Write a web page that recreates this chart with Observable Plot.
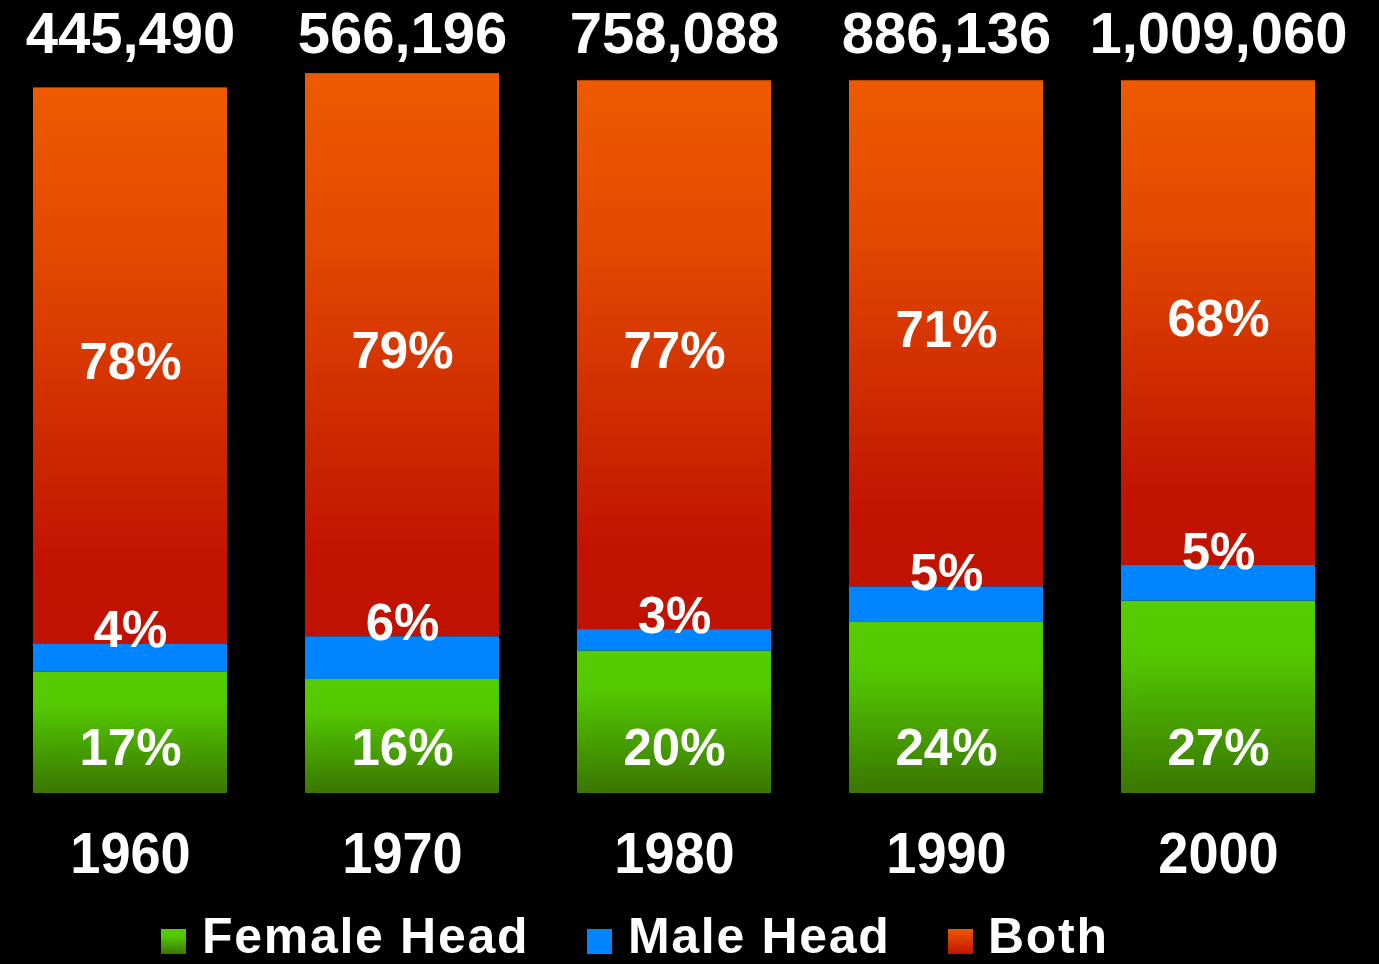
<!DOCTYPE html>
<html><head><meta charset="utf-8">
<script src="https://cdn.jsdelivr.net/npm/d3@7"></script>
<script src="https://cdn.jsdelivr.net/npm/@observablehq/plot@0.6"></script>
<style>
html,body{margin:0;padding:0;background:#000;overflow:hidden;}
#chart{width:1379px;}
.legend{position:relative;width:1379px;height:54px;font-family:"Liberation Sans",Arial,sans-serif;font-weight:bold;color:#fff;}
.legend .sw{position:absolute;width:25px;height:25px;top:19px;}
.legend .lb{position:absolute;font-size:50px;line-height:40px;height:40px;top:6.2px;letter-spacing:1.7px;white-space:nowrap;}
</style></head><body><div id="chart"></div>
<script>
// ---- data ----
const years = ["1960", "1970", "1980", "1990", "2000"];
const totals = [445490, 566196, 758088, 886136, 1009060];
const female = [17, 16, 20, 24, 27];
const male = [4, 6, 3, 5, 5];
const both = [78, 79, 77, 71, 68];
const series = ["Female Head", "Male Head", "Both"];

// ---- styling ----
const gradId = {"Female Head": "gFemale", "Male Head": "gMale", "Both": "gBoth"};
const cssGrad = {
  "Female Head": "linear-gradient(#55cc00, #52c600 30%, #3a7600)",
  "Male Head": "#0084ff",
  "Both": "linear-gradient(#ee5800, #c01400)"
};
const legendPos = [{sw: 161, lb: 202}, {sw: 587, lb: 628}, {sw: 948, lb: 988}];

const rows = [];
years.forEach((y, i) => {
  rows.push({year: y, type: series[0], value: female[i]});
  rows.push({year: y, type: series[1], value: male[i]});
  rows.push({year: y, type: series[2], value: both[i]});
});
const idx = years.map((_, i) => i);

const defs = () => {
  const ns = "http://www.w3.org/2000/svg";
  const d = document.createElementNS(ns, "defs");
  d.innerHTML = `
  <linearGradient id="gFemale" x1="0" y1="0" x2="0" y2="1">
    <stop offset="0" stop-color="#55cc00"/><stop offset="0.28" stop-color="#53c800"/><stop offset="1" stop-color="#3a7600"/>
  </linearGradient>
  <linearGradient id="gMale" x1="0" y1="0" x2="0" y2="1">
    <stop offset="0" stop-color="#0084ff"/><stop offset="1" stop-color="#0084ff"/>
  </linearGradient>
  <linearGradient id="gBoth" x1="0" y1="0" x2="0" y2="1">
    <stop offset="0" stop-color="#ee5a00"/><stop offset="0.3" stop-color="#e24a00"/><stop offset="0.85" stop-color="#c11400"/><stop offset="1" stop-color="#c01200"/>
  </linearGradient>`;
  return d;
};

const H = 910;
const fmt = d3.format(",");
const font = "'Liberation Sans', Arial, sans-serif";

const chart = Plot.plot({
  width: 1379,
  height: H,
  marginLeft: 33,
  marginRight: 64,
  marginTop: 66,
  marginBottom: H - 793,
  style: {background: "#000", color: "#fff", fontFamily: font},
  x: {domain: years, paddingInner: 0.287, paddingOuter: 0, label: null},
  y: {domain: [0, 102], axis: null},
  color: {type: "identity"},
  marks: [
    defs,
    Plot.barY(rows, {x: "year", y: "value", fill: d => `url(#${gradId[d.type]})`, inset: 0}),
    Plot.axisX({tickSize: 0, tickPadding: 39, fontSize: 57, fontWeight: "bold", fill: "#fff", label: null}),
    Plot.text(idx, {x: i => years[i], text: i => fmt(totals[i]), frameAnchor: "top", dy: -32, lineAnchor: "middle", fontSize: 58, fontWeight: "bold", fill: "#fff"}),
    Plot.text(idx, {x: i => years[i], y: 0, text: i => female[i] + "%", dy: -45, lineAnchor: "middle", fontSize: 51, fontWeight: "bold", fill: "#fff"}),
    Plot.text(idx, {x: i => years[i], y: i => female[i] + male[i], text: i => male[i] + "%", dy: -13, lineAnchor: "middle", fontSize: 51, fontWeight: "bold", fill: "#fff"}),
    Plot.text(idx, {x: i => years[i], y: i => female[i] + male[i] + both[i] / 2, text: i => both[i] + "%", dy: -3, lineAnchor: "middle", fontSize: 51, fontWeight: "bold", fill: "#fff"})
  ]
});

// horizontally condense year labels slightly
d3.select(chart).selectAll('g[aria-label="x-axis tick label"] text').each(function() {
  const t = this.getAttribute("transform");
  if (t) this.setAttribute("transform", t + " scale(0.95,1)");
});

document.getElementById("chart").appendChild(chart);

// legend
const legend = document.createElement("div");
legend.className = "legend";
series.forEach((s, i) => {
  const sw = document.createElement("div");
  sw.className = "sw";
  sw.style.left = legendPos[i].sw + "px";
  sw.style.background = cssGrad[s];
  const lb = document.createElement("div");
  lb.className = "lb";
  lb.style.left = legendPos[i].lb + "px";
  lb.textContent = s;
  legend.appendChild(sw);
  legend.appendChild(lb);
});
document.getElementById("chart").appendChild(legend);
</script></body></html>
